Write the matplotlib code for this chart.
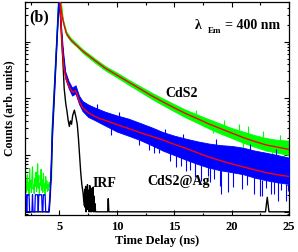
import numpy as np
import matplotlib
matplotlib.use('Agg')
import matplotlib.pyplot as plt
from matplotlib.ticker import LogLocator, MultipleLocator, NullFormatter, FixedLocator

# ---------------- data (time in ns, counts) ----------------
pre_start = 2.0
pre_step = 0.05
green_pre = [2.6, 3.8, 2.2, 3.1, 4.5, 2.4, 3.3, 2.0, 5.8, 2.7,
             3.6, 2.2, 4.1, 6.2, 2.5, 3.0, 2.1, 3.9, 2.8, 5.0,
             2.3, 3.4, 7.0, 2.6, 4.4, 2.1, 3.2, 2.9, 5.6, 2.4,
             3.7, 2.2, 4.8, 2.7, 3.1, 2.0, 4.2, 2.6, 3.5, 2.3,
             3.0, 2.4, 3.3, 2.8, 3.1, 3.4]
blue_pre = [2, 2, 2, 1, 2, 2, 2, 2, 1, 1,
            1, 1, 1, 2, 1, 1, 1, 1, 2, 2,
            2, 2, 2, 1, 2, 2, 2, 2, 2, 2,
            1, 1, 2, 2, 2, 2, 1, 1, 1, 1,
            1, 1]

green_rise_t = [4.3, 4.36, 4.6, 4.8, 4.93]
green_rise_c = [3.5, 27, 240, 1500, 5600]
blue_rise_t = [4.1, 4.2, 4.3, 4.38, 4.6, 4.8, 4.95]
blue_rise_c = [1.2, 2.5, 8, 27, 210, 1350, 5600]

green_band_t = [4.95, 5.1, 5.3, 5.6, 6.0, 6.5, 7, 8, 9, 10, 11, 12, 13, 14, 15,
                16, 17, 18, 19, 20, 21, 22, 23, 24, 25]
green_lo = [5000, 4000, 2150, 1300, 1000, 820, 640, 440, 310, 235, 175, 132, 99, 76, 59,
            46, 37, 29.5, 24, 20, 16.5, 14, 12, 11, 10]
green_hi = [5600, 5600, 2500, 1500, 1150, 930, 740, 520, 370, 285, 215, 165, 127, 100, 79,
            63, 52, 43, 36, 30, 26, 22.5, 20, 18.5, 18]

blue_band_t = [4.95, 5.1, 5.3, 5.5, 5.8, 6.1, 6.4, 6.7, 7.0, 7.5, 8, 9, 10, 11, 12, 13,
               14, 15, 16, 17, 18, 19, 20, 21, 22, 23, 24, 25]
blue_lo = [5000, 1800, 540, 225, 150, 112, 122, 80, 60, 47, 42, 33, 26, 22, 18.5, 15,
           12, 10, 8.3, 7, 6, 5.4, 5, 4.6, 4.0, 3.6, 3.3, 3.1]
blue_hi = [5600, 2400, 720, 300, 200, 155, 170, 112, 90, 78, 70, 58, 50, 44, 37, 31,
           25.5, 22, 19.5, 17.5, 16, 15, 14.5, 13.5, 12, 11, 10, 9.0]

# noise spikes: time, one end, other end
blue_spk_t = [9.5, 11.9, 12.8, 13.2, 13.7, 14.6, 15.15, 15.6, 16.04, 16.4, 16.77, 17.36,
              17.9, 18.1, 18.5, 18.98, 19.1, 19.7, 20.16, 20.9, 21.3, 21.93, 22.5, 22.67,
              23.0, 23.4, 23.7, 24.0, 24.3, 24.73, 24.9,
              8.3, 10.2, 14.2, 15.8, 18.6, 21.6, 23.9]
blue_spk_a = [30, 19, 16, 15, 13, 11.5, 10, 9.5, 8.5, 8, 7.5, 7,
              6.4, 6, 5.8, 5.5, 5.4, 5.1, 5, 4.7, 4.4, 4.1, 3.8, 3.7,
              3.6, 3.5, 3.4, 3.3, 3.2, 3.1, 3.1,
              60, 45, 23, 19, 15, 12.5, 10]
blue_spk_b = [23, 15, 12.5, 11, 11, 8, 6.1, 6.5, 5.3, 5.5, 4.05, 3.5,
              4.3, 3.3, 3.8, 2.9, 2.1, 2.2, 2.7, 2.5, 3.0, 2.05, 1.9, 1.92,
              2.6, 2.05, 2.07, 1.57, 2.4, 1.57, 2.3,
              80, 58, 29, 24, 19, 16, 13]
green_spk_t = [16.9, 19.3, 20.6, 21.4, 22.7, 24.2, 18.4, 21.0, 23.5, 24.6]
green_spk_a = [50, 33, 28, 25, 21, 18, 30, 17, 11.5, 10.5]
green_spk_b = [62, 42, 36, 32, 27, 23, 25, 13.5, 9, 8.5]

green_fit_t = [5.05, 5.15, 5.3, 5.45, 5.6, 5.8, 6.0, 6.5, 7, 8, 9, 10, 11, 12, 13, 14,
               15, 16, 17, 18, 19, 20, 21, 22, 23, 24, 25]
green_fit_c = [5600, 3600, 2400, 1800, 1410, 1200, 1070, 850, 690, 480, 340, 257, 195,
               148, 112, 87, 68, 54, 44, 35.5, 29.5, 24.5, 20.4, 17.4, 15.1, 13.8, 12.6]

blue_fit_t = [5.05, 5.15, 5.27, 5.4, 5.5, 5.65, 5.8, 6.0, 6.2, 6.4, 6.55, 6.7, 7.0, 7.5,
              8, 8.5, 9, 10, 11, 12, 13, 14, 15, 16, 17, 18, 19, 20, 21, 22, 23, 24, 25]
blue_fit_c = [5600, 1800, 630, 330, 256, 200, 170, 140, 128, 136, 115, 92, 69, 56,
              49, 44, 41, 34.5, 29.5, 25, 21.5, 18.5, 15.5, 13.2, 11.0, 9.3, 8.0, 7.0,
              6.2, 5.5, 4.9, 4.5, 4.2]

irf_t_main = [2.0, 4.1, 4.2, 4.3, 4.38, 4.6, 4.8, 4.97, 5.1, 5.2, 5.3, 5.41, 5.55, 5.65,
              5.75, 5.86, 5.95, 6.05, 6.15, 6.3, 6.44, 6.55, 6.65, 6.75, 6.85, 6.95,
              7.05, 7.15]
irf_c_main = [1, 1, 2, 6, 20, 170, 1200, 5600, 2500, 1000, 450, 150, 80, 60,
              42, 32, 40, 35, 50, 62, 46, 35, 20, 10, 5, 3, 2.2, 1.3]
irf_noise_start = 7.2
irf_noise_step = 0.04
irf_noise = [2.5, 1.2, 2.8, 1.0, 2.0, 1.3, 3.0, 1.1, 2.4, 1.0, 1.8, 2.9, 1.0, 1.5,
             2.6, 1.0, 2.2, 1.2, 2.7, 1.0, 1.9, 1.0, 1.4]
irf_t_tail = [8.15, 9.2, 9.25, 9.3, 22.95, 23.1, 23.25, 25.0]
irf_c_tail = [1, 1, 1.7, 1, 1, 1.8, 1, 1]

labels = {'panel': '(b)', 'green': 'CdS2', 'blue': 'CdS2@Ag', 'irf': 'IRF'}
xticks = [5, 10, 15, 20, 25]

# ---------------- plotting ----------------
plt.rcParams['font.family'] = ['Liberation Serif', 'DejaVu Serif']
plt.rcParams['font.weight'] = 'bold'

GREEN = '#00ff00'
BLUE = '#0000ff'
RED = '#ff0000'

fig = plt.figure(figsize=(2.98, 2.52), dpi=100)
ax = fig.add_axes([0.084, 0.147, 0.886, 0.845])

# green data
g_pre_t = pre_start + pre_step * np.arange(len(green_pre))
ax.plot(g_pre_t, green_pre, color=GREEN, lw=0.8, zorder=2)
ax.plot(np.r_[g_pre_t[-1], green_rise_t], np.r_[green_pre[-1], green_rise_c],
        color=GREEN, lw=1.0, zorder=2)
ax.fill_between(green_band_t, green_lo, green_hi, color=GREEN, lw=0.6, zorder=2)
ax.vlines(green_spk_t, green_spk_a, green_spk_b, color=GREEN, lw=0.8, zorder=2)

# IRF
irf_nt = irf_noise_start + irf_noise_step * np.arange(len(irf_noise))
irf_t = np.r_[irf_t_main, irf_nt, irf_t_tail]
irf_c = np.r_[irf_c_main, irf_noise, irf_c_tail]
ax.plot(irf_t, irf_c, color='black', lw=1.0, zorder=2.5)

# blue data
b_pre_t = pre_start + pre_step * np.arange(len(blue_pre))
ax.plot(b_pre_t, blue_pre, color=BLUE, lw=0.9, zorder=3)
ax.plot(np.r_[b_pre_t[-1], blue_rise_t], np.r_[blue_pre[-1], blue_rise_c],
        color=BLUE, lw=1.0, zorder=3)
ax.fill_between(blue_band_t, blue_lo, blue_hi, color=BLUE, lw=0.6, zorder=3)
ax.vlines(blue_spk_t, blue_spk_a, blue_spk_b, color=BLUE, lw=0.8, zorder=3)

# fits
ax.plot(green_fit_t, green_fit_c, color=RED, lw=1.0, zorder=4)
ax.plot(blue_fit_t, blue_fit_c, color=RED, lw=1.0, zorder=4)

ax.set_yscale('log')
ax.set_xlim(2, 25)
ax.set_ylim(0.88, 5000)

ax.xaxis.set_major_locator(FixedLocator(xticks))
ax.xaxis.set_minor_locator(MultipleLocator(2.5))
ax.yaxis.set_major_locator(LogLocator(base=10))
ax.yaxis.set_minor_locator(LogLocator(base=10, subs=np.arange(2, 10)))
ax.yaxis.set_major_formatter(NullFormatter())
ax.yaxis.set_minor_formatter(NullFormatter())

ax.tick_params(which='both', direction='in', top=True, right=True, width=0.8)
ax.tick_params(which='major', length=3.5, labelsize=9, pad=4)
ax.tick_params(which='minor', length=1.8)
for sp in ax.spines.values():
    sp.set_linewidth(0.9)
for lab in ax.get_xticklabels():
    lab.set_fontweight('bold')

ax.set_xlabel('Time Delay (ns)', fontsize=9, fontweight='bold', labelpad=2)
ax.set_ylabel('Counts (arb. units)', fontsize=8.5, fontweight='bold', labelpad=3)

ax.text(0.015, 0.927, labels['panel'], transform=ax.transAxes, fontsize=11.5,
        fontweight='bold', va='center', ha='left', zorder=5)
ax.text(0.644, 0.873, 'λ', transform=ax.transAxes, fontsize=10,
        fontweight='bold', va='baseline', ha='left', zorder=5)
ax.text(0.693, 0.856, 'Em', transform=ax.transAxes, fontsize=6.5,
        fontweight='bold', va='baseline', ha='left', zorder=5)
ax.text(0.758, 0.873, '= 400 nm', transform=ax.transAxes, fontsize=10,
        fontweight='bold', va='baseline', ha='left', zorder=5)
ax.text(0.53, 0.554, labels['green'], transform=ax.transAxes, fontsize=10,
        fontweight='bold', va='baseline', ha='left', zorder=5)
ax.text(0.462, 0.141, labels['blue'], transform=ax.transAxes, fontsize=10,
        fontweight='bold', va='baseline', ha='left', zorder=5)
ax.text(0.254, 0.131, labels['irf'], transform=ax.transAxes, fontsize=10,
        fontweight='bold', va='baseline', ha='left', zorder=5)

fig.savefig('out.png', dpi=100)
